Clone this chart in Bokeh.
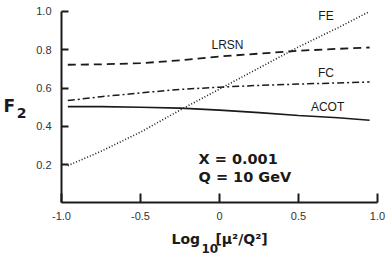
from bokeh.plotting import figure
from bokeh.models import Range1d, FixedTicker, Label
from bokeh.embed import file_html
from bokeh.resources import INLINE

# log10(mu^2/Q^2)
mu = [-0.96, -0.75, -0.5, -0.25, 0.0, 0.25, 0.5, 0.75, 0.95]
fe = [0.195, 0.27, 0.37, 0.485, 0.595, 0.705, 0.815, 0.915, 1.0]
lrsn = [0.722, 0.724, 0.73, 0.745, 0.765, 0.78, 0.795, 0.805, 0.812]
fc = [0.535, 0.555, 0.575, 0.593, 0.605, 0.614, 0.621, 0.627, 0.632]
acot = [0.503, 0.503, 0.5, 0.495, 0.485, 0.472, 0.457, 0.445, 0.432]

x_ticks = [-1.0, -0.5, 0.0, 0.5, 1.0]
x_tick_labels = ["-1.0", "-0.5", "0", "0.5", "1.0"]
y_ticks = [0.2, 0.4, 0.6, 0.8, 1.0]
y_tick_labels = ["0.2", "0.4", "0.6", "0.8", "1.0"]

curve_names = ["FE", "LRSN", "FC", "ACOT"]
kin_texts = ["X = 0.001", "Q = 10 GeV"]

# frame covers the whole canvas; axes are pinned at x=-1 and y=0
p = figure(width=391, height=259, output_backend="svg", toolbar_location=None,
           x_range=Range1d(-1.3861, 1.0886), y_range=Range1d(-0.2951, 1.0574))
p.min_border = 0
p.min_border_left = 0
p.min_border_right = 0
p.min_border_top = 0
p.min_border_bottom = 0
p.outline_line_color = None
p.grid.visible = False

ink = "#1a1a1a"
p.line(mu, fe, line_color=ink, line_width=1.6, line_dash="1 2")
p.line(mu, lrsn, line_color=ink, line_width=1.8, line_dash="8 5")
p.line(mu, fc, line_color=ink, line_width=1.5, line_dash="7 3 2 3")
p.line(mu, acot, line_color=ink, line_width=1.7)

for ax in (p.xaxis[0], p.yaxis[0]):
    ax.axis_line_color = ink
    ax.axis_line_width = 2
    ax.major_tick_line_color = ink
    ax.major_tick_line_width = 2
    ax.major_tick_out = 0
    ax.minor_tick_in = 0
    ax.minor_tick_out = 0
    ax.major_label_text_font = "Liberation Sans"
    ax.major_label_text_font_size = "11px"
    ax.major_label_text_color = "#333333"

p.xaxis.fixed_location = 0.0
p.xaxis.bounds = (-1.0, 1.0)
p.xaxis.ticker = FixedTicker(ticks=x_ticks, minor_ticks=[])
p.xaxis.major_label_overrides = dict(zip(x_ticks, x_tick_labels))
p.xaxis.major_tick_in = 9
p.xaxis.major_label_standoff = 9

p.yaxis.fixed_location = -1.0
p.yaxis.bounds = (0.0, 1.0)
p.yaxis.ticker = FixedTicker(ticks=y_ticks, minor_ticks=[])
p.yaxis.major_label_overrides = dict(zip(y_ticks, y_tick_labels))
p.yaxis.major_tick_in = 7
p.yaxis.major_label_standoff = 10


def add_text(txt, x, y, size, bold=False, font="DejaVu Sans",
             align="left", baseline="alphabetic"):
    p.add_layout(Label(x=x, y=y, text=txt, text_font=font,
                       text_font_size=size,
                       text_font_style="bold" if bold else "normal",
                       text_color=ink, text_align=align,
                       text_baseline=baseline))


# y title: F with subscript 2
add_text("F", -1.367, 0.505, "17px", bold=True)
add_text("2", -1.283, 0.47, "14px", bold=True)
# x title: Log10[mu^2/Q^2]
add_text("Log", -0.304, -0.19, "14px", bold=True)
add_text("10", -0.114, -0.237, "12px", bold=True)
add_text("[μ²/Q²]", -0.026, -0.19, "14px", bold=True)

# curve labels
for txt, lx, ly in zip(curve_names, [0.674, 0.0506, 0.674, 0.684],
                       [0.974, 0.8276, 0.679, 0.499]):
    add_text(txt, lx, ly, "12px", font="Liberation Sans",
             align="center", baseline="middle")

# kinematics
for txt, ly in zip(kin_texts, [0.231, 0.137]):
    add_text(txt, -0.1329, ly, "14.5px", bold=True)

open("out.html", "w").write(file_html(p, INLINE))
